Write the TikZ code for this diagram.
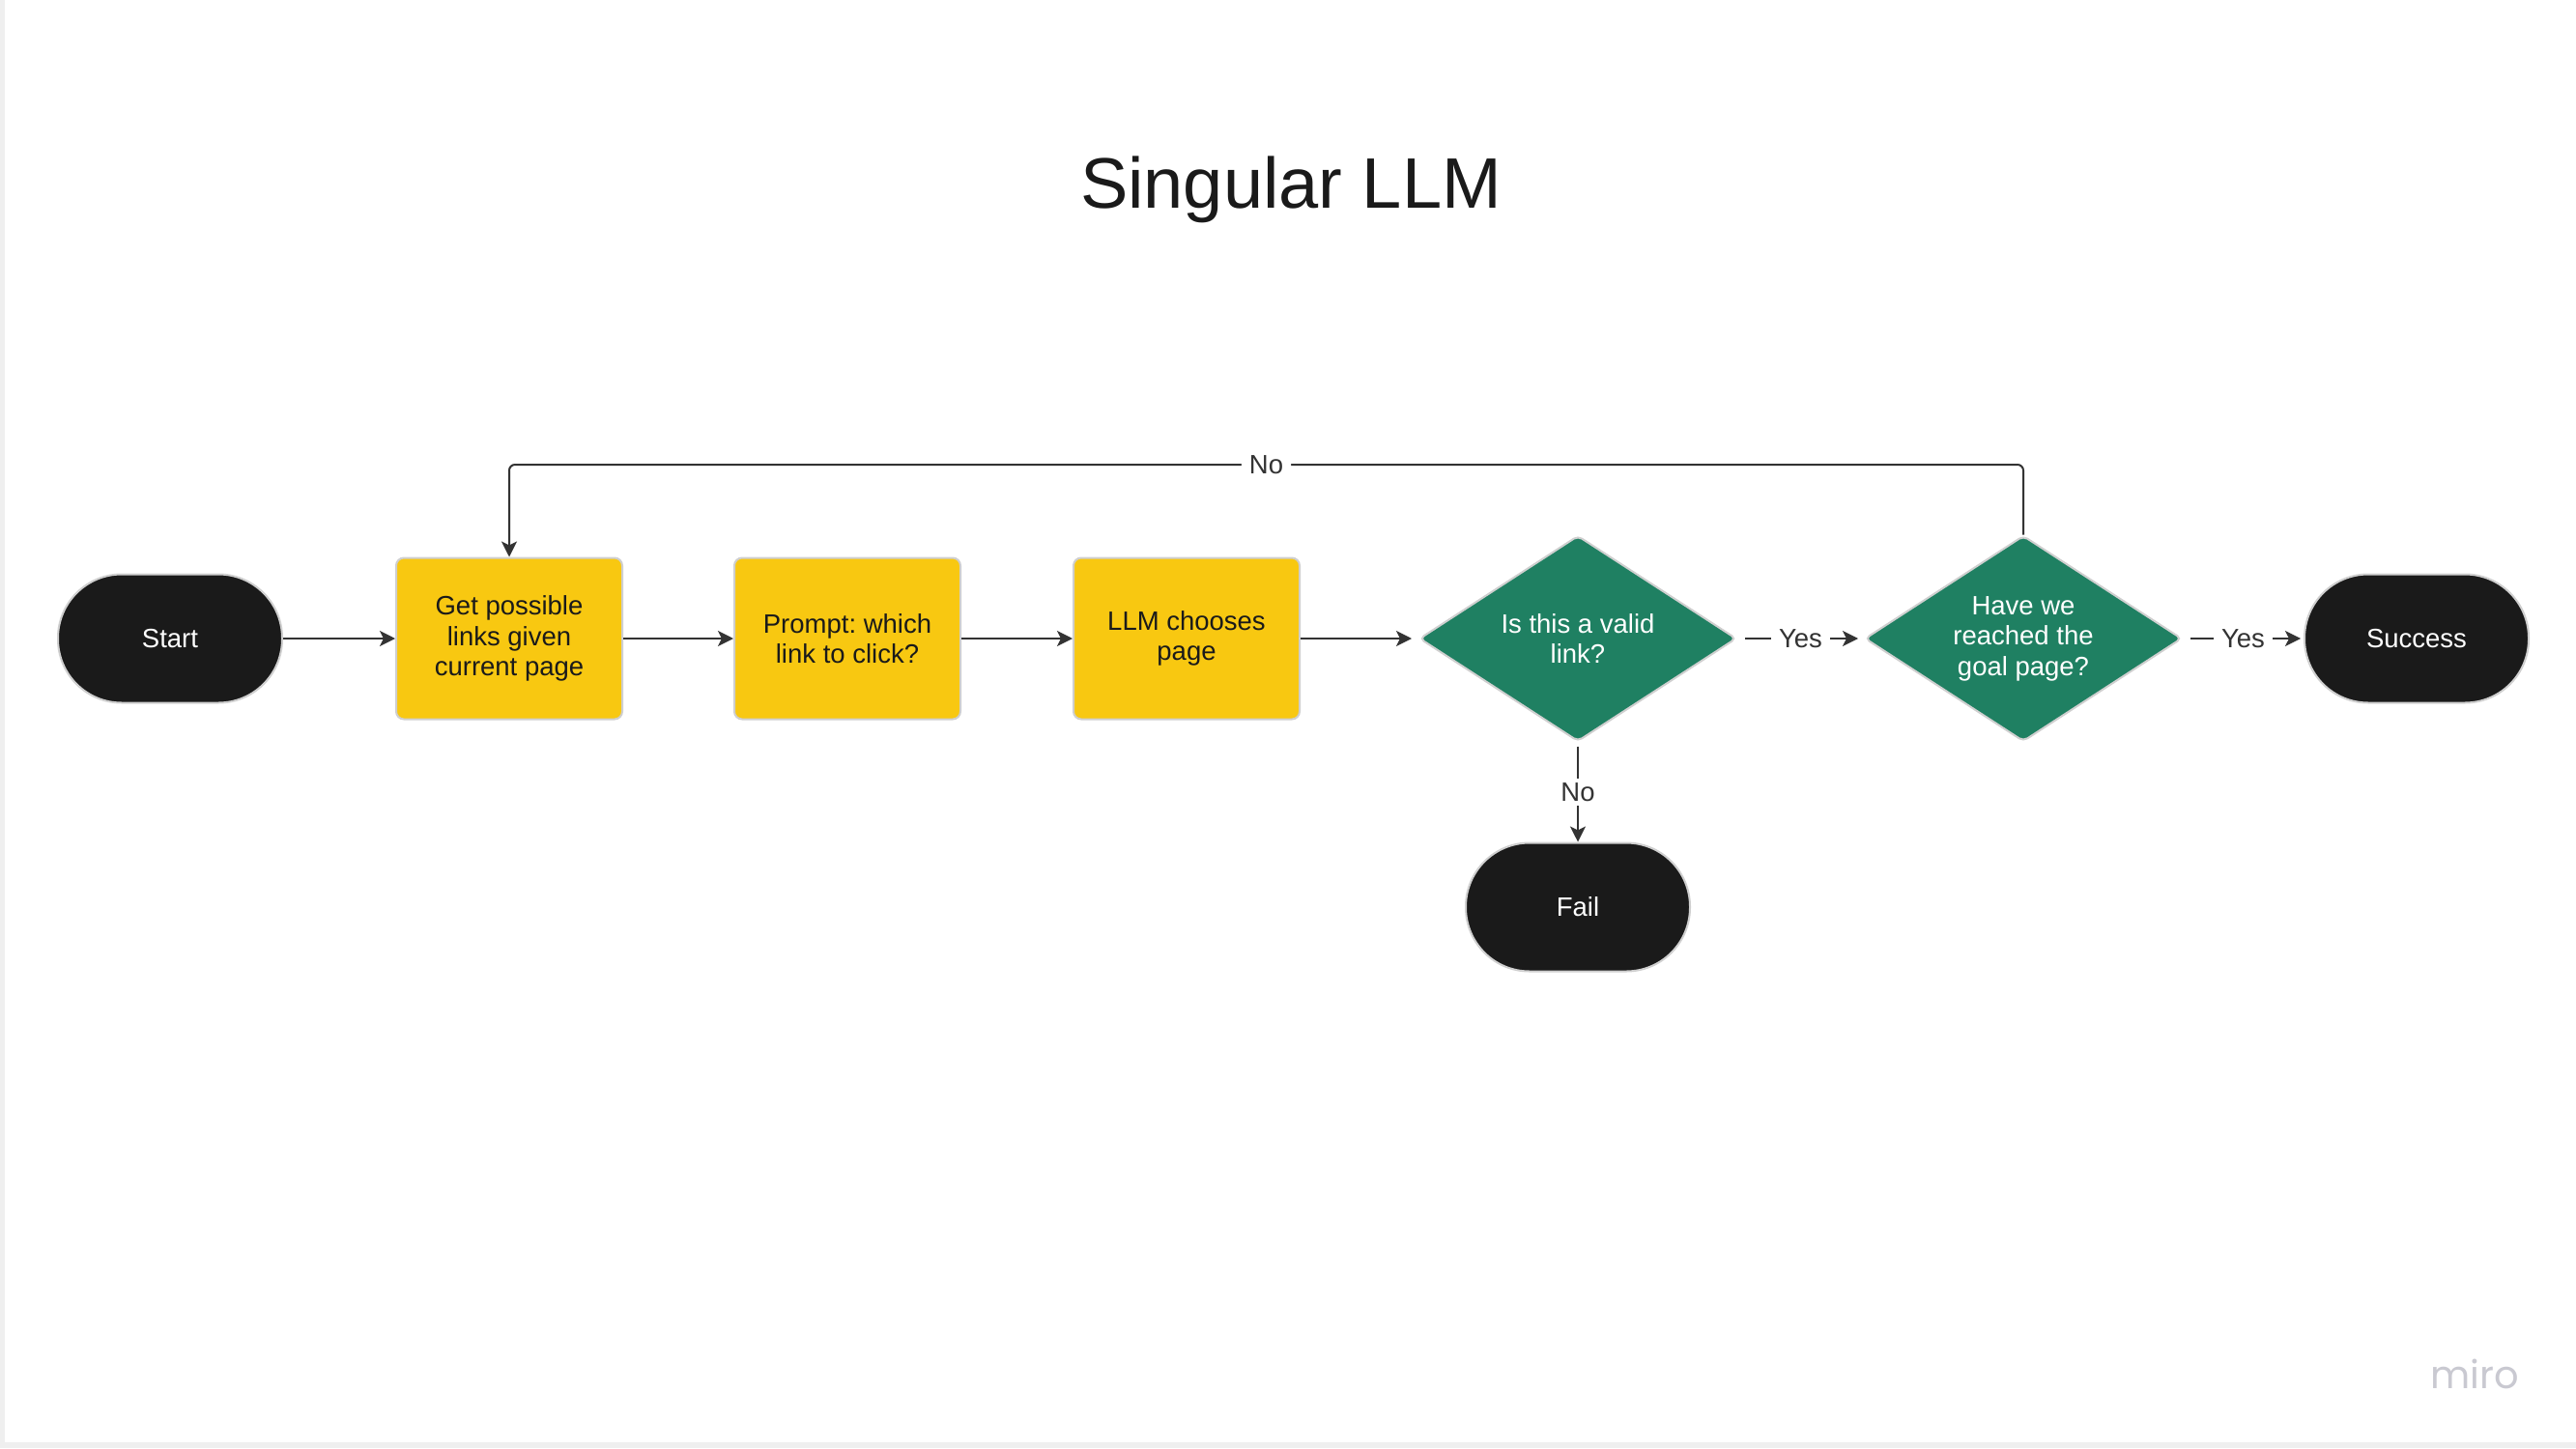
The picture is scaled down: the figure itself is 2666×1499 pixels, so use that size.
\documentclass[tikz,border=0pt]{standalone}
\usepackage{fontspec}
\setmainfont{Liberation Sans}
\newfontfamily\logofont{Poppins}
\usetikzlibrary{shapes.geometric,arrows.meta}
\definecolor{ink}{HTML}{1A1A1A}
\definecolor{yel}{HTML}{F8C811}
\definecolor{grn}{HTML}{1F8062}
\definecolor{edgec}{HTML}{333333}
\definecolor{bord}{HTML}{CFCFCF}
\definecolor{pagegray}{HTML}{EFEFEF}
\definecolor{logoc}{HTML}{C9C9D1}
\frenchspacing
\begin{document}
\begin{tikzpicture}[x=1pt,y=-1pt,
 txt/.style={font=\fontsize{27.5}{31.5}\selectfont, align=center, inner sep=0pt},
 term/.style={txt, rectangle, rounded corners=66pt, fill=ink, draw=bord, line width=2pt, text=white, minimum width=232pt, minimum height=133pt},
 proc/.style={txt, rectangle, rounded corners=8pt, fill=yel, draw=bord, line width=2pt, text=ink, minimum width=234pt, minimum height=167pt},
 dec/.style={diamond, rounded corners=5pt, fill=grn, draw=bord, line width=2pt, inner sep=0pt, minimum width=328pt, minimum height=213pt},
 dectext/.style={txt, text=white},
 conn/.style={draw=edgec, line width=2pt, -{Stealth[length=16pt,width=16pt,inset=4pt]}},
 lbl/.style={font=\fontsize{27.5}{31.5}\selectfont, text=edgec, fill=white, inner xsep=8pt, inner ysep=4pt}]
\useasboundingbox (0,0) rectangle (2666,1499);
\fill[pagegray] (0,0) rectangle (2666,1499);
\fill[white] (5,0) rectangle (2666,1493);

\node (title) [anchor=base, font=\fontsize{74}{80}\selectfont, text=ink] at (1336,215) {Singular LLM};
\node (logo) [anchor=base, font=\logofont\fontsize{40}{44}\selectfont, text=logoc] at (2561,1437) {miro};

\node[term] (start) at (176,661) {Start};
\node[proc] (b1) at (527,661) {Get possible\\links given\\current page};
\node[proc] (b2) at (877,661) {Prompt: which\\link to click?};
\node[proc] (b3) at (1228,661) {LLM chooses\\page};
\node[dec, label={[dectext]center:{Is this a valid\\link?}}] (d1) at (1633,661) {};
\node[dec, label={[dectext]center:{Have we\\reached the\\goal page?}}] (d2) at (2094,661) {};
\node[term] (succ) at (2501,661) {Success};
\node[term] (fail) at (1633,939) {Fail};

\coordinate (toprow) at (0,481);

\draw[conn] (start) -- (b1);
\draw[conn] (b1) -- (b2);
\draw[conn] (b2) -- (b3);
\draw[conn, shorten >=7pt] (b3) -- (d1);
\draw[conn, shorten <=8pt, shorten >=6pt] (d1.east) -- node[lbl]{Yes} (d2.west);
\draw[conn, shorten <=8pt, shorten >=3pt] (d2.east) -- node[lbl]{Yes} (succ.west);
\draw[conn, shorten <=4pt] (d1.south) -- node[lbl]{No} (fail.north);
\draw[conn, rounded corners=6pt] (d2.north) -- (d2.north |- toprow) -- node[lbl]{No} (b1.north |- toprow) -- (b1.north);
\end{tikzpicture}
\end{document}
